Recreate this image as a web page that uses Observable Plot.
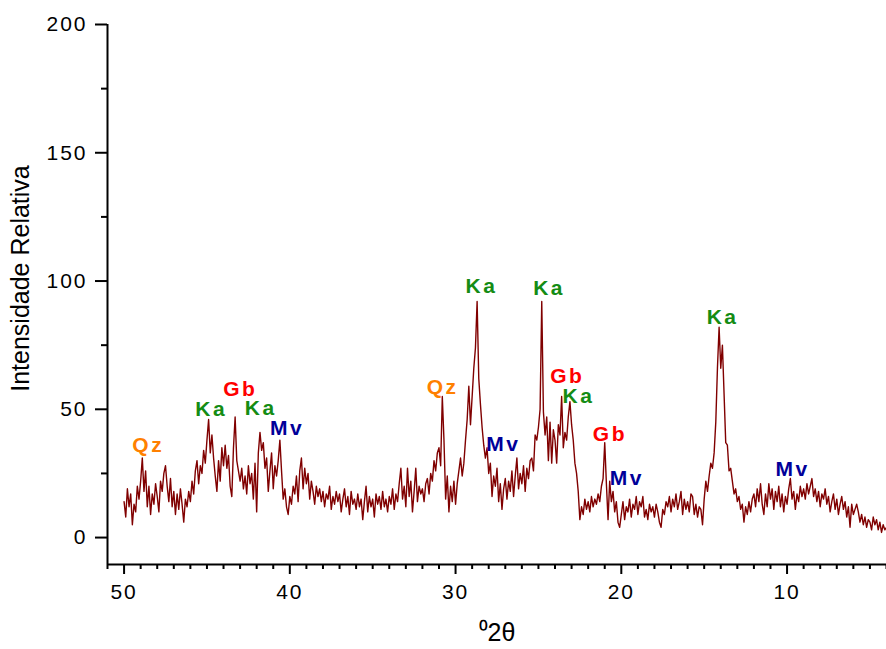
<!DOCTYPE html>
<html>
<head>
<meta charset="utf-8">
<script src="https://cdn.jsdelivr.net/npm/d3@7"></script>
<script src="https://cdn.jsdelivr.net/npm/@observablehq/plot@0.6"></script>
<style>
  html, body { margin: 0; padding: 0; background: #fff; }
  #chart svg { display: block; }
</style>
</head>
<body>
<div id="chart"></div>
<script>
// ---- data ----
// XRD scan: 2θ from 50.0 down to 4.0 in steps of 0.1
const angleStart = 50.0;
const angleStep = 0.1;
const intensity = [
  14, 8, 19, 12, 17, 5, 13, 10, 20, 15,      // 50.0 - 49.1
  22, 31, 18, 26, 12, 20, 9, 17, 13, 21,     // 49.0 - 48.1
  16, 10, 22, 18, 25, 28, 20, 14, 23, 12,    // 48.0 - 47.1
  18, 9, 17, 11, 19, 13, 6, 15, 12, 18,      // 47.0 - 46.1
  14, 22, 17, 26, 30, 21, 28, 25, 34, 29,    // 46.0 - 45.1
  38, 46, 33, 40, 31, 24, 18, 30, 22, 35,    // 45.0 - 44.1
  28, 36, 27, 32, 20, 16, 35, 47, 30, 26,    // 44.0 - 43.1
  22, 27, 19, 24, 17, 28, 21, 25, 15, 29,    // 43.0 - 42.1
  10, 33, 41, 34, 37, 27, 31, 18, 26, 33,    // 42.0 - 41.1
  19, 28, 24, 30, 38, 26, 15, 19, 12, 9,     // 41.0 - 40.1
  16, 13, 20, 17, 24, 14, 26, 31, 19, 27,    // 40.0 - 39.1
  21, 25, 15, 22, 18, 13, 20, 16, 19, 14,    // 39.0 - 38.1
  18, 12, 17, 15, 20, 11, 16, 13, 18, 14,    // 38.0 - 37.1
  17, 10, 15, 19, 12, 16, 9, 18, 13, 15,     // 37.0 - 36.1
  11, 17, 12, 15, 7, 14, 20, 10, 16, 12,     // 36.0 - 35.1
  15, 8, 17, 13, 16, 11, 18, 12, 15, 10,     // 35.0 - 34.1
  16, 13, 19, 11, 17, 14, 21, 27, 15, 20,    // 34.0 - 33.1
  12, 27, 16, 22, 10, 18, 27, 14, 20, 17,    // 33.0 - 32.1
  19, 14, 21, 23, 17, 25, 22, 30, 26, 33,    // 32.0 - 31.1
  35, 28, 55, 38, 15, 24, 10, 20, 14, 22,    // 31.0 - 30.1
  13, 21, 26, 31, 24, 29, 38, 46, 59, 44,    // 30.0 - 29.1
  55, 66, 74, 92, 62, 52, 43, 36, 31, 35,    // 29.0 - 28.1
  25, 29, 16, 24, 20, 27, 14, 21, 11, 19,    // 28.0 - 27.1
  23, 15, 22, 18, 26, 16, 24, 31, 19, 25,    // 27.0 - 26.1
  21, 28, 18, 27, 23, 30, 31, 26, 40, 38,    // 26.0 - 25.1
  43, 50, 92, 49, 40, 47, 30, 45, 29, 42,    // 25.0 - 24.1
  38, 29, 44, 40, 55, 35, 41, 38, 47, 53,    // 24.0 - 23.1
  44, 38, 29, 25, 18, 7, 12, 9, 15, 11,      // 23.0 - 22.1
  14, 10, 16, 12, 15, 13, 17, 14, 20, 23,    // 22.0 - 21.1
  37, 21, 7, 22, 14, 18, 10, 14, 6, 4,       // 21.0 - 20.1
  9, 14, 7, 12, 10, 15, 8, 13, 11, 16,       // 20.0 - 19.1
  9, 14, 12, 16, 8, 11, 7, 13, 10, 12,       // 19.0 - 18.1
  8, 13, 10, 6, 4, 11, 9, 14, 12, 16,        // 18.0 - 17.1
  10, 15, 12, 17, 11, 14, 18, 9, 15, 11,     // 17.0 - 16.1
  14, 10, 17, 16, 9, 13, 8, 12, 11, 5,       // 16.0 - 15.1
  15, 22, 18, 24, 29, 27, 33, 45, 66, 82,    // 15.0 - 14.1
  66, 75, 56, 37, 36, 26, 27, 22, 17, 19,    // 14.0 - 13.1
  14, 16, 11, 13, 6, 12, 9, 14, 10, 15,      // 13.0 - 12.1
  17, 12, 19, 14, 21, 13, 9, 17, 12, 21,     // 12.0 - 11.1
  15, 19, 11, 18, 14, 20, 12, 17, 10, 16,    // 11.0 - 10.1
  13, 19, 23, 15, 18, 11, 17, 14, 20, 16,    // 10.0 - 9.1
  19, 15, 21, 17, 20, 23, 16, 19, 14, 18,    // 9.0 - 8.1
  12, 17, 15, 19, 13, 16, 10, 14, 17, 11,    // 8.0 - 7.1
  15, 9, 13, 16, 11, 14, 8, 12, 4, 13,       // 7.0 - 6.1
  9, 11, 13, 10, 6, 9, 5, 8, 4, 7,           // 6.0 - 5.1
  6, 3, 8, 5, 7, 3, 6, 2, 5, 3,              // 5.0 - 4.1
  4                                          // 4.0
];

// peak annotations
const peakText  = ["Qz", "Ka", "Gb", "Ka", "Mv", "Qz", "Ka", "Mv", "Ka", "Gb", "Ka", "Gb", "Mv", "Ka", "Mv"];
const peakAngle = [48.6, 44.8, 43.05, 41.82, 40.22, 30.84, 28.5, 27.18, 24.42, 23.32, 22.65, 20.75, 19.72, 13.95, 9.72];
const peakLevel = [35.9, 49.9, 57.7, 50.3, 42.5, 58.6, 97.9, 36.2, 97.0, 62.9, 55.0, 40.1, 23.2, 85.8, 26.8];
const phaseNames  = ["Qz", "Ka", "Gb", "Mv"];
const phaseColors = ["#ff8000", "#148c14", "#ff0000", "#000099"];

// axes
const xDomain = [51, 4];
const yDomain = [-10.5, 200];
const xMajorTicks = [50, 40, 30, 20, 10];
const xMinorTicks = [51, 49, 48, 47, 46, 45, 44, 43, 42, 41, 39, 38, 37, 36, 35, 34, 33, 32, 31,
                     29, 28, 27, 26, 25, 24, 23, 22, 21, 19, 18, 17, 16, 15, 14, 13, 12, 11,
                     9, 8, 7, 6, 5, 4];
const yMajorTicks = [0, 50, 100, 150, 200];
const yMinorTicks = [25, 75, 125, 175];
const xTitle = "\u20702\u03b8";
const yTitle = "Intensidade Relativa";

// ---- build tables ----
const scan = intensity.map((v, i) => ({angle: +(angleStart - i * angleStep).toFixed(1), intensity: v}));
const peaks = peakText.map((t, i) => ({text: t, angle: peakAngle[i], level: peakLevel[i],
  color: phaseColors[phaseNames.indexOf(t)]}));

const font = "'Liberation Sans', Arial, Helvetica, sans-serif";

const chart = Plot.plot({
  width: 886,
  height: 649,
  marginLeft: 107,
  marginRight: 0,
  marginTop: 24,
  marginBottom: 85,
  style: {fontFamily: font, color: "#000", background: "#fff", overflow: "visible"},
  x: {domain: xDomain, range: [107, 886]},
  y: {domain: yDomain},
  marks: [
    Plot.axisY(yMajorTicks, {anchor: "left", tickSize: 12, tickPadding: 8, fontSize: 21,
      strokeWidth: 2, label: null, tickFormat: d => String(d)}),
    Plot.axisY(yMinorTicks, {anchor: "left", tickSize: 6, strokeWidth: 2, label: null, tickFormat: () => ""}),
    Plot.axisX(xMajorTicks, {anchor: "bottom", tickSize: 10, tickPadding: 10, fontSize: 21,
      strokeWidth: 2, label: null, tickFormat: d => String(d)}),
    Plot.axisX(xMinorTicks, {anchor: "bottom", tickSize: 5, strokeWidth: 2, label: null, tickFormat: () => ""}),
    Plot.ruleX([xDomain[0]], {stroke: "#000", strokeWidth: 2}),
    Plot.ruleY([yDomain[0]], {stroke: "#000", strokeWidth: 2}),
    Plot.line(scan, {x: "angle", y: "intensity", stroke: "#800000", strokeWidth: 1.4}),
    Plot.text(peaks, {x: "angle", y: "level", text: "text", fill: "color", fontSize: 21,
      fontWeight: "bold", dx: 1}),
    Plot.text([yTitle], {text: d => d, frameAnchor: "left", textAnchor: "middle", lineAnchor: "middle",
      rotate: -90, dx: -87, dy: -16, fontSize: 25}),
    Plot.text([xTitle], {text: d => d, frameAnchor: "bottom", textAnchor: "middle", lineAnchor: "middle",
      dy: 68, fontSize: 25})
  ]
});

document.getElementById("chart").appendChild(chart);

// letter spacing, as in the reference
const sel = d3.select(chart);
sel.selectAll('g[aria-label="y-axis tick label"] text, g[aria-label="x-axis tick label"] text')
  .style("letter-spacing", "2px");
const textGroups = sel.selectAll('g[aria-label="text"]').nodes();
if (textGroups.length) d3.select(textGroups[0]).selectAll("text").style("letter-spacing", "2.5px");
</script>
</body>
</html>
